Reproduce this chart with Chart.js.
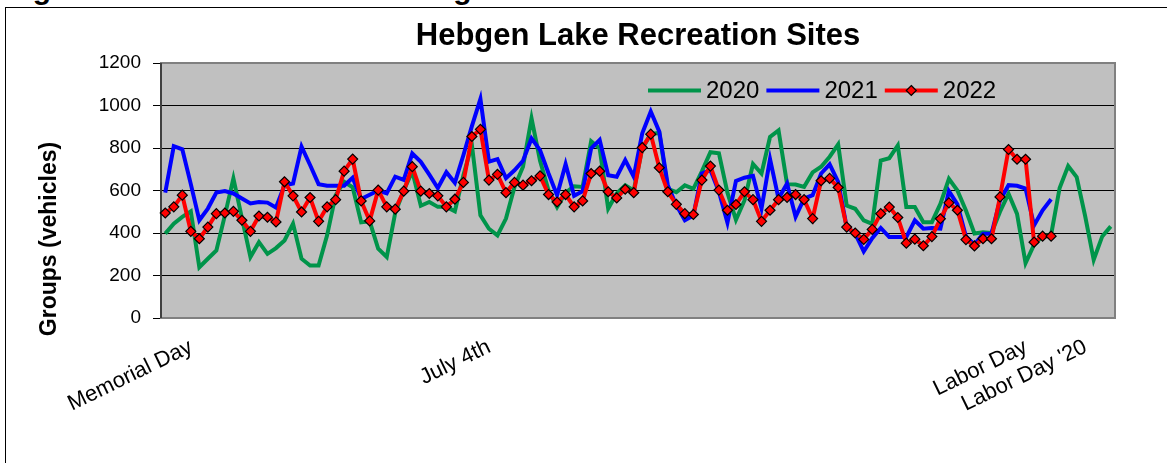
<!DOCTYPE html>
<html>
<head>
<meta charset="utf-8">
<script src="https://cdn.jsdelivr.net/npm/chart.js@4.4.1/dist/chart.umd.min.js"></script>
<style>
    html, body { margin: 0; padding: 0; background: #fff; }
    body { width: 1167px; height: 463px; overflow: hidden; position: relative; }
    #caption { position: absolute; left: 6px; top: -26px; white-space: nowrap;
               font: bold 30px/30px "Liberation Sans", Arial, sans-serif; color: #000; }
    #frame { position: absolute; left: 5px; top: 7px; width: 1200px; height: 500px;
             border-left: 1px solid #000; border-top: 1px solid #000; }
    #wrap { position: absolute; left: 0; top: 0; width: 1167px; height: 463px; }
</style>
</head>
<body>
<div id="caption">Figure 5. Total Visitation to Hebgen Lake Recreation Sites</div>
<div id="frame"></div>
<div id="wrap"><canvas id="visitChart"></canvas></div>
<script>
// ----------------------
//  DATA
// ----------------------

// one category per day, Memorial Day = day 0
const dayCount = 112;
const holidayDays = [0, 35, 98, 105];
const holidayNames = ['Memorial Day', 'July 4th', 'Labor Day', "Labor Day '20"];

const visits2020 = [
    397, 444, 476, 502, 239, 279, 318, 483, 657, 470,
    287, 357, 302, 329, 365, 444, 279, 247, 247, 389,
    578, 641, 615, 450, 455, 326, 287, 495, 600, 690,
    528, 546, 523, 523, 502, 672, 814, 483, 420, 389,
    468, 617, 712, 940, 740, 600, 522, 590, 620, 617,
    832, 798, 515, 586, 625, 600, 798, 865, 872, 608,
    592, 624, 608, 690, 780, 775, 590, 462, 553, 725,
    680, 852, 883, 630, 628, 617, 685, 712, 759, 817,
    529, 514, 459, 443, 741, 752, 812, 522, 522, 451,
    451, 537, 655, 600, 506, 398, 404, 400, 500, 585,
    490, 258, 345, 384, 392, 612, 715, 663, 479, 274,
    384, 431
];
const visits2021 = [
    590, 809, 794, 630, 460, 515, 590, 597, 586, 562,
    539, 546, 543, 520, 625, 633, 806, 720, 630, 622,
    622, 622, 660, 560, 580, 600, 587, 665, 650, 774,
    735, 675, 612, 686, 636, 766, 903, 1031, 736, 748,
    658, 695, 740, 845, 790, 680, 578, 724, 575, 597,
    798, 838, 672, 665, 743, 665, 869, 972, 877, 625,
    531, 460, 483, 680, 696, 594, 449, 645, 660, 669,
    515, 748, 562, 633, 476, 562, 578, 680, 723, 641,
    428, 397, 313, 376, 424, 381, 381, 381, 460, 420,
    424, 421, 597, 535, 384, 345, 397, 397, 554, 625,
    622, 609, 436, 507, 559
];
const visits2022 = [
    494, 523, 578, 408, 373, 428, 491, 494, 502, 460,
    408, 480, 474, 452, 641, 575, 499, 567, 455, 523,
    557, 691, 748, 551, 457, 602, 523, 512, 597, 712,
    597, 586, 575, 523, 559, 638, 854, 888, 649, 676,
    590, 638, 625, 646, 669, 581, 546, 581, 523, 551,
    680, 691, 594, 565, 606, 590, 802, 865, 707, 594,
    535, 491, 487, 649, 715, 602, 507, 534, 594, 557,
    455, 507, 557, 568, 581, 557, 468, 646, 657, 614,
    428, 400, 370, 417, 491, 522, 473, 352, 371, 340,
    383, 467, 542, 507, 369, 339, 373, 373, 570, 793,
    747, 747, 357, 385, 385
];

// x labels: only the holidays get text
const dayLabels = [];
for (let d = 0; d < dayCount; d++) {
    const h = holidayDays.indexOf(d);
    dayLabels.push(h >= 0 ? holidayNames[h] : '');
}

// ----------------------
//  CHART
// ----------------------
const FONT = '"Liberation Sans", Arial, sans-serif';
Chart.defaults.font.family = FONT;
Chart.defaults.color = '#000';

// grey plot area with a grey frame, like the old Excel charts
const plotBackground = {
    id: 'plotBackground',
    beforeDraw(chart) {
        const { ctx, chartArea: a } = chart;
        ctx.save();
        ctx.fillStyle = '#c0c0c0';
        ctx.fillRect(a.left, a.top, a.width, a.height);
        ctx.restore();
    },
    beforeDatasetsDraw(chart) {
        const { ctx, chartArea: a } = chart;
        ctx.save();
        ctx.strokeStyle = '#808080';
        ctx.lineWidth = 2;
        ctx.strokeRect(a.left, a.top, a.width, a.height);
        ctx.strokeStyle = '#404040';
        ctx.beginPath();
        ctx.moveTo(a.left, a.top);
        ctx.lineTo(a.left, a.bottom);
        ctx.stroke();
        ctx.restore();
    }
};

// legend sits inside the plot, top right
const insideLegend = {
    id: 'insideLegend',
    afterDraw(chart) {
        const { ctx, chartArea: a } = chart;
        ctx.save();
        ctx.font = '24px ' + FONT;
        ctx.textBaseline = 'middle';
        let x = a.left + 487;
        const y = a.top + 27.5;
        chart.data.datasets.forEach(ds => {
            ctx.strokeStyle = ds.borderColor;
            ctx.lineWidth = 4;
            ctx.beginPath();
            ctx.moveTo(x, y);
            ctx.lineTo(x + 53, y);
            ctx.stroke();
            if (ds.pointRadius > 0) {
                const cx = x + 26.5, r = ds.pointRadius;
                ctx.beginPath();
                ctx.moveTo(cx, y - r);
                ctx.lineTo(cx + r, y);
                ctx.lineTo(cx, y + r);
                ctx.lineTo(cx - r, y);
                ctx.closePath();
                ctx.fillStyle = ds.pointBackgroundColor;
                ctx.fill();
                ctx.lineWidth = ds.pointBorderWidth;
                ctx.strokeStyle = ds.pointBorderColor;
                ctx.stroke();
            }
            x += 58;
            ctx.fillStyle = '#000';
            ctx.fillText(ds.label, x, y + 1);
            x += ctx.measureText(ds.label).width + 7;
        });
        ctx.restore();
    }
};

// y title sits lower than the plot centre in the original
const yTitle = {
    id: 'yTitle',
    afterDraw(chart) {
        const ctx = chart.ctx;
        ctx.save();
        ctx.translate(50, 239);
        ctx.rotate(-Math.PI / 2);
        ctx.font = 'bold 23px ' + FONT;
        ctx.textAlign = 'center';
        ctx.textBaseline = 'middle';
        ctx.fillStyle = '#000';
        ctx.fillText('Groups (vehicles)', 0, 0);
        ctx.restore();
    }
};

const chartData = {
    labels: dayLabels,
    datasets: [{
        label: '2020',
        data: visits2020,
        borderColor: '#00944a',
        borderWidth: 4,
        pointRadius: 0,
        order: 2
    }, {
        label: '2021',
        data: visits2021,
        borderColor: '#0000ff',
        borderWidth: 4,
        pointRadius: 0,
        order: 1
    }, {
        label: '2022',
        data: visits2022,
        borderColor: '#ff0000',
        borderWidth: 4,
        pointStyle: 'rectRot',
        pointRadius: 5,
        pointBackgroundColor: '#ff0000',
        pointBorderColor: '#000',
        pointBorderWidth: 1.2,
        order: 0
    }]
};

const options = {
    responsive: true,
    maintainAspectRatio: false,
    animation: false,
    layout: {
        padding: { left: 6, right: 52, top: 8, bottom: 0 }
    },
    plugins: {
        legend: { display: false },
        tooltip: { enabled: false },
        title: {
            display: true,
            fullSize: false,
            text: 'Hebgen Lake Recreation Sites',
            font: { size: 31, weight: 'bold' },
            padding: { top: 10, bottom: 7.8 }
        }
    },
    elements: {
        line: { tension: 0 }
    },
    scales: {
        x: {
            type: 'category',
            offset: true,
            grid: { display: false },
            border: { display: false },
            ticks: {
                autoSkip: false,
                minRotation: 26,
                maxRotation: 26,
                font: { size: 22 },
                padding: 8,
                labelOffset: 26
            },
            afterFit(scale) { scale.height = 463 - 318; }
        },
        y: {
            min: 0,
            max: 1200,
            ticks: {
                stepSize: 200,
                font: { size: 19 },
                padding: 12,
                callback: function (value) {
                    return String(value);
                }
            },
            grid: { color: '#000', lineWidth: 1, tickLength: 8 },
            border: { display: false },
            afterFit(scale) { scale.width = 161 - 6; }
        }
    }
};

const ctx = document.getElementById('visitChart').getContext('2d');
const visitChart = new Chart(ctx, {
    type: 'line',
    data: chartData,
    options: options,
    plugins: [plotBackground, insideLegend, yTitle]
});
</script>
</body>
</html>
